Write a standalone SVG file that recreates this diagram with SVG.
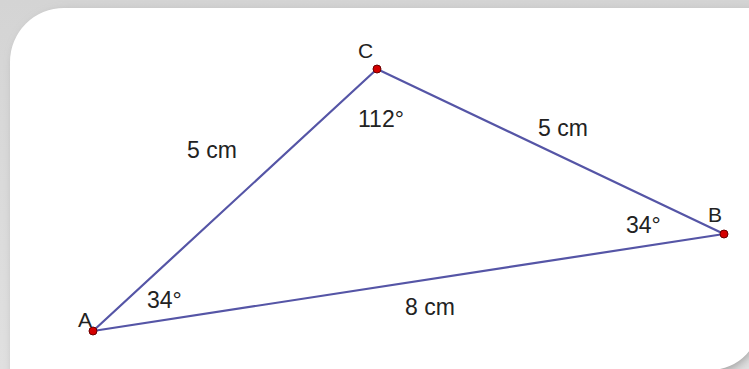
<svg xmlns="http://www.w3.org/2000/svg" width="749" height="369" viewBox="0 0 749 369">
  <defs>
    <filter id="shadow" x="-10%" y="-10%" width="120%" height="120%">
      <feGaussianBlur stdDeviation="5"/>
    </filter>
    <linearGradient id="bg" x1="0" y1="0" x2="0" y2="1">
      <stop offset="0" stop-color="#d4d4d4"/>
      <stop offset="1" stop-color="#e0e0e0"/>
    </linearGradient>
  </defs>
  <style>
    .edge { stroke: #5555a6; stroke-width: 2.2; fill: none; stroke-linecap: round; }
    .pt { fill: #d40000; stroke: #6a0000; stroke-width: 1; }
    .lbl { font-family: "Liberation Sans", Arial, sans-serif; font-size: 23px; fill: #222; }
    .vtx { font-family: "Liberation Sans", Arial, sans-serif; font-size: 21px; fill: #222; }
  </style>
  <rect x="0" y="0" width="749" height="369" fill="url(#bg)"/>
  <path d="M14,380 L14,66 A54,54 0 0 1 68,12 L760,12 L760,322 A52,52 0 0 1 708,374 Z" fill="#a0a0a0" filter="url(#shadow)"/>
  <path d="M10,380 L10,62 A54,54 0 0 1 64,8 L760,8 L760,318 A50,50 0 0 1 710,370 L10,380 Z" fill="#ffffff"/>
  <g id="connectors">
    <line class="edge" x1="93" y1="331" x2="377" y2="69"/>
    <line class="edge" x1="377" y1="69" x2="724" y2="234"/>
    <line class="edge" x1="93" y1="331" x2="724" y2="234"/>
  </g>
  <g id="A">
    <circle class="pt" cx="93" cy="331" r="4"/>
    <text class="vtx" x="78" y="327">A</text>
  </g>
  <g id="B">
    <circle class="pt" cx="724" cy="234" r="4"/>
    <text class="vtx" x="708" y="222">B</text>
  </g>
  <g id="C">
    <circle class="pt" cx="377" cy="69" r="4"/>
    <text class="vtx" x="358" y="58">C</text>
  </g>
  <g id="labels">
    <text class="lbl" x="187" y="158">5 cm</text>
    <text class="lbl" x="538" y="136">5 cm</text>
    <text class="lbl" x="405" y="315">8 cm</text>
    <text class="lbl" x="358" y="127">112°</text>
    <text class="lbl" x="626" y="233">34°</text>
    <text class="lbl" x="147" y="308">34°</text>
  </g>
</svg>
